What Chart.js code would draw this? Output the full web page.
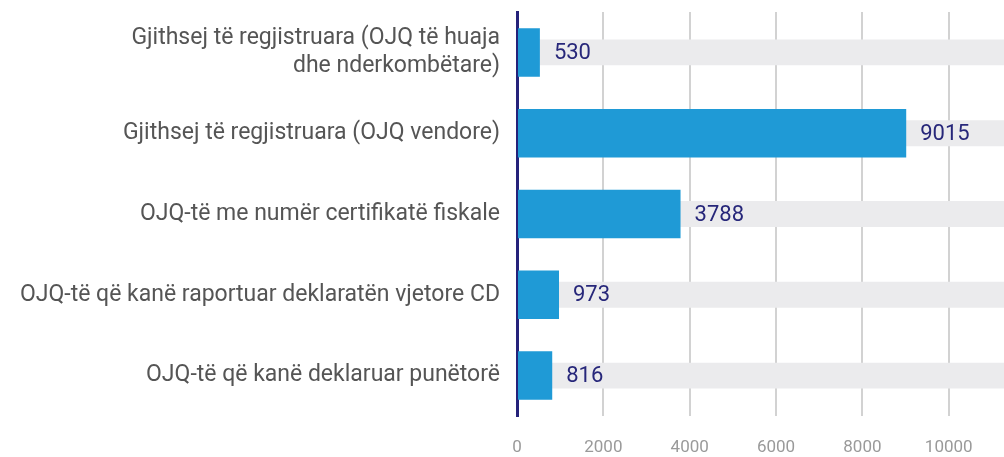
<!DOCTYPE html>
<html>
<head>
<meta charset="utf-8">
<script src="https://cdn.jsdelivr.net/npm/chart.js@4/dist/chart.umd.min.js"></script>
<style>
  html, body { margin: 0; padding: 0; background: #ffffff; }
  #wrap { width: 1004px; height: 457px; position: relative; }
</style>
</head>
<body>
<div id="wrap"><canvas id="chart"></canvas></div>
<script>
// Chart data
const categories = [
    ['Gjithsej të regjistruara (OJQ të huaja', 'dhe nderkombëtare)'],
    'Gjithsej të regjistruara (OJQ vendore)',
    'OJQ-të me numër certifikatë fiskale',
    'OJQ-të që kanë raportuar deklaratën vjetore CD',
    'OJQ-të që kanë deklaruar punëtorë'
];
const values = [530, 9015, 3788, 973, 816];
const tickValues = [0, 2000, 4000, 6000, 8000, 10000];
const axisMax = 11280;
const track = [axisMax, axisMax, axisMax, axisMax, axisMax];

// value labels after each blue bar
const valueLabels = {
    id: 'valueLabels',
    afterDatasetsDraw(chart) {
        const ctx = chart.ctx;
        const meta = chart.getDatasetMeta(0);
        ctx.save();
        ctx.font = '22px Roboto';
        ctx.fillStyle = '#27277a';
        ctx.textAlign = 'left';
        ctx.textBaseline = 'middle';
        meta.data.forEach((bar, i) => {
            ctx.fillText(String(values[i]), bar.x + 14, bar.y + 1);
        });
        ctx.restore();
    }
};

new Chart(document.getElementById('chart'), {
    type: 'bar',
    data: {
        labels: categories,
        datasets: [{
            data: values,
            backgroundColor: '#1f9ad6',
            barPercentage: 0.6,
            categoryPercentage: 1,
            order: 1
        }, {
            data: track,
            backgroundColor: '#ebebed',
            barPercentage: 0.32,
            categoryPercentage: 1,
            order: 2
        }]
    },
    options: {
        indexAxis: 'y',
        responsive: true,
        maintainAspectRatio: false,
        animation: false,
        grouped: false,
        layout: { padding: { top: 12, right: 0, left: 0, bottom: 0 } },
        plugins: {
            legend: { display: false },
            tooltip: { enabled: false }
        },
        scales: {
            x: {
                min: 0,
                max: axisMax,
                afterBuildTicks(scale) {
                    scale.ticks = tickValues.map(v => ({ value: v }));
                },
                afterFit(scale) {
                    scale.height = 41;
                    scale.paddingLeft = 0;
                    scale.paddingRight = 0;
                },
                grid: { color: '#d2d2d2', lineWidth: 2, drawTicks: false },
                border: { display: false },
                ticks: {
                    padding: 22,
                    color: '#9a9a9a',
                    font: { family: 'Roboto', size: 17 },
                    callback: v => String(v)
                }
            },
            y: {
                afterFit(scale) {
                    scale.width = 517;
                    scale.paddingTop = 0;
                    scale.paddingBottom = 0;
                },
                grid: { display: false, drawTicks: false },
                border: { display: true, color: '#25227a', width: 3 },
                ticks: {
                    padding: 17,
                    color: '#555555',
                    font: { family: 'Roboto', size: 23, lineHeight: 1.2 }
                }
            }
        }
    },
    plugins: [valueLabels]
});
</script>
</body>
</html>
